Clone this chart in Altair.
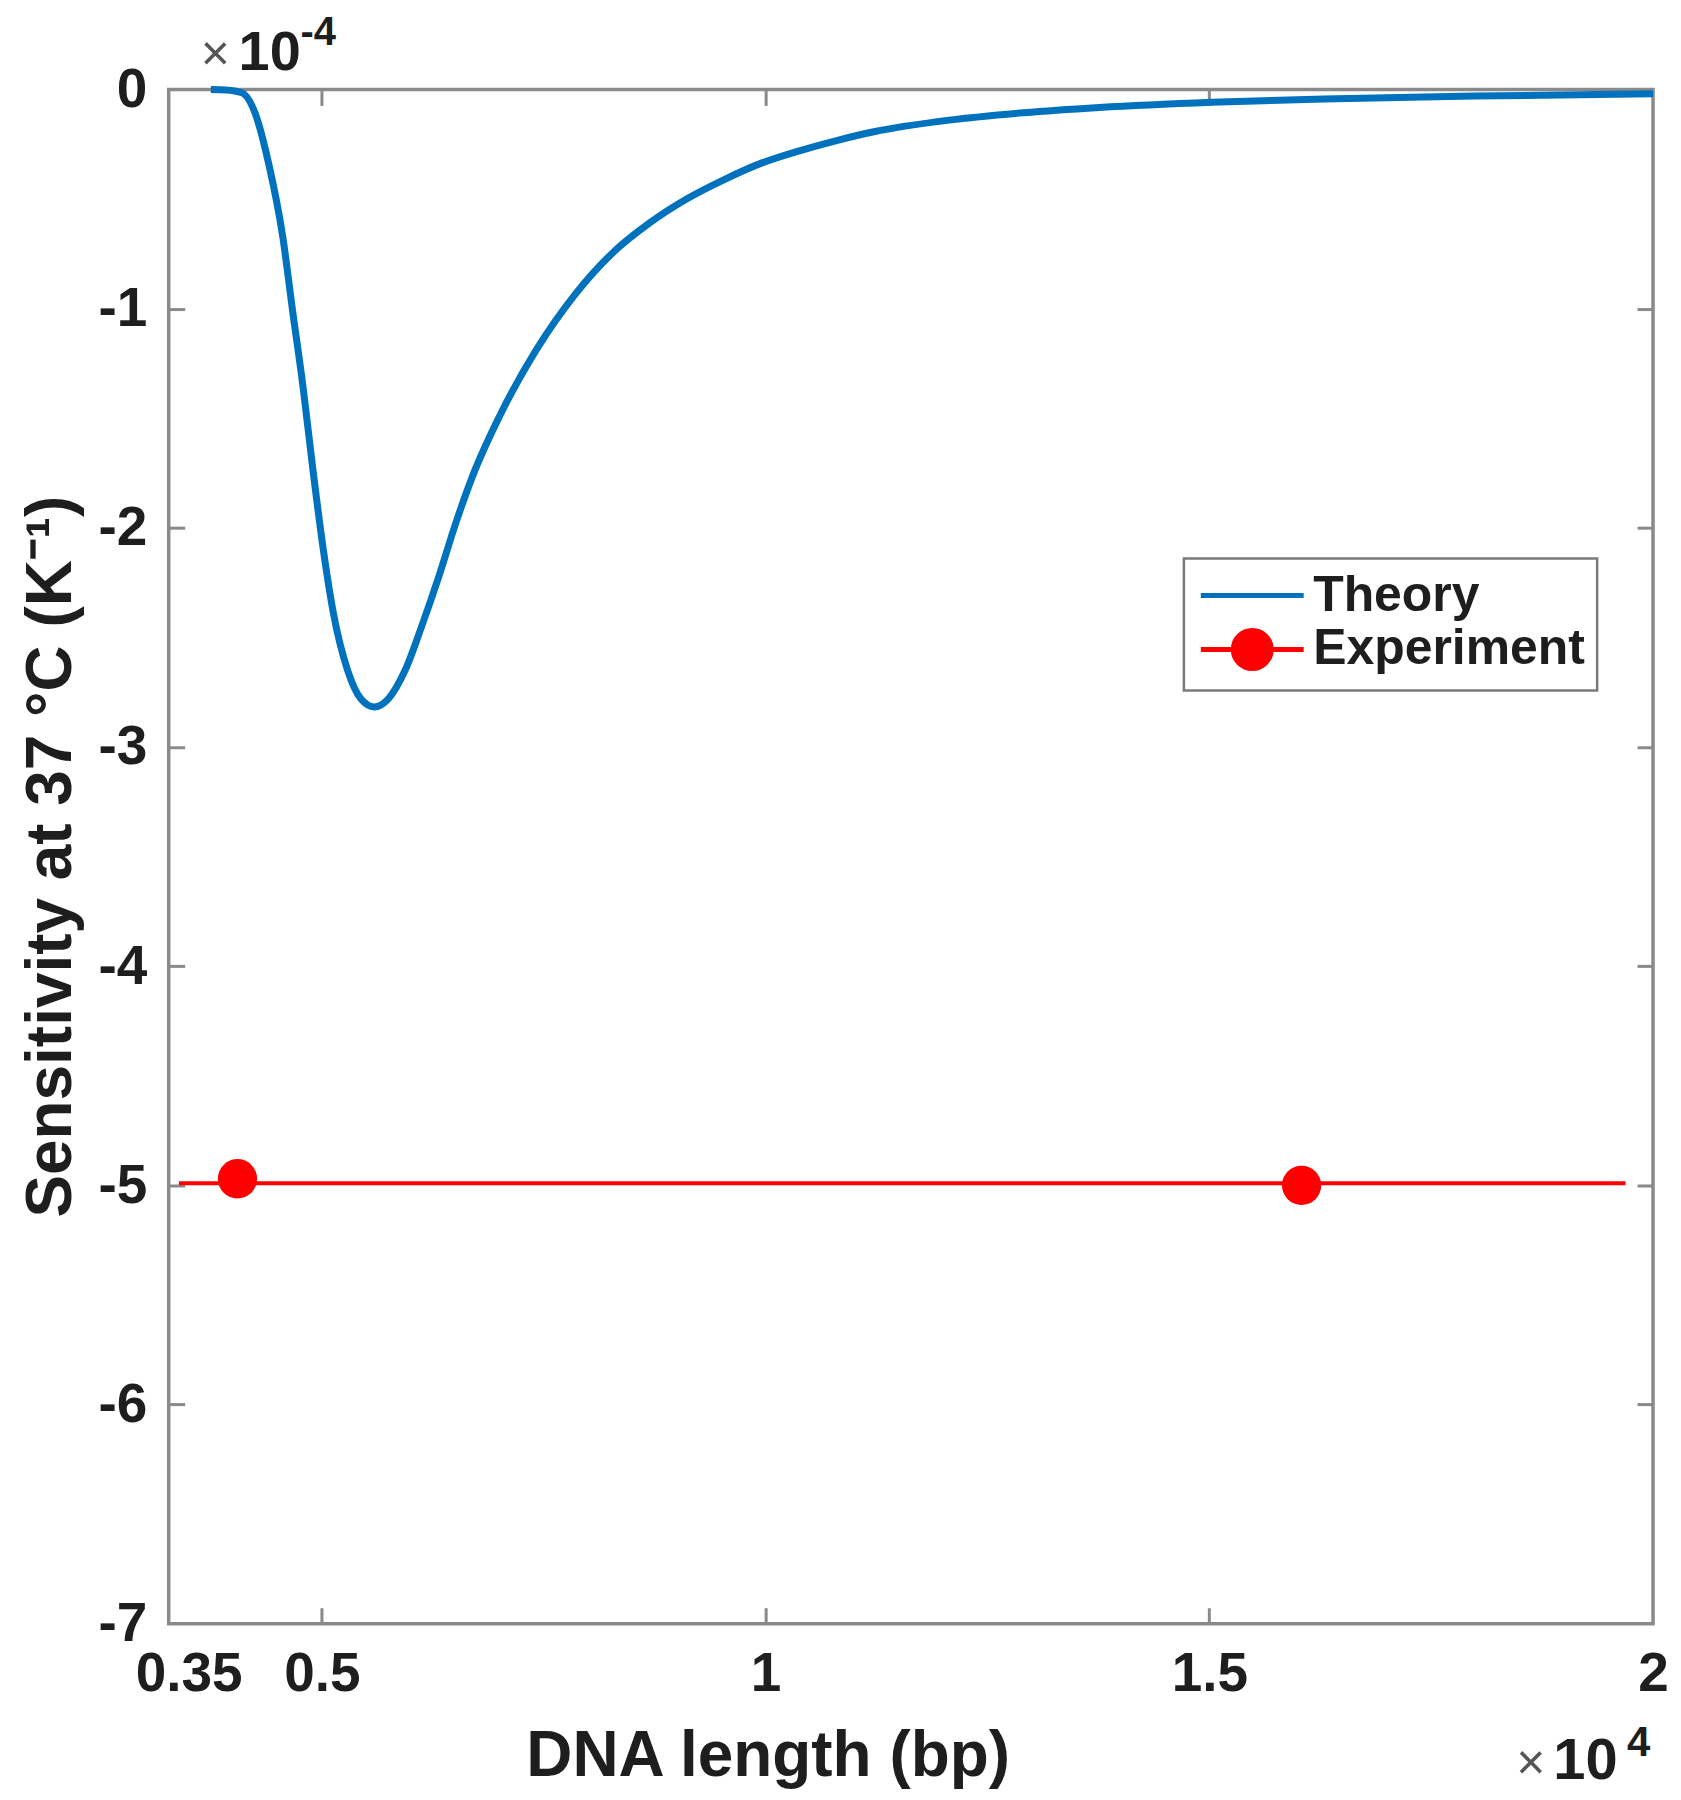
import altair as alt
import pandas as pd

# ---- data (x in units of 1e4 bp, y in units of 1e-4 K^-1) ----
theory_x = [0.375, 0.392, 0.410, 0.425, 0.440, 0.456, 0.467, 0.479, 0.490, 0.502,
            0.513, 0.529, 0.544, 0.559, 0.575, 0.594, 0.613, 0.632, 0.651, 0.670,
            0.700, 0.742, 0.785, 0.827, 0.869, 0.911, 0.954, 0.996, 1.038, 1.080,
            1.122, 1.207, 1.291, 1.376, 1.503, 1.629, 1.798, 2.000]
theory_y = [0.0, -0.002, -0.015, -0.11, -0.336, -0.672, -1.007, -1.362, -1.735, -2.108,
            -2.388, -2.649, -2.780, -2.817, -2.780, -2.649, -2.444, -2.220, -1.978, -1.763,
            -1.493, -1.186, -0.937, -0.748, -0.610, -0.500, -0.410, -0.335, -0.280, -0.233,
            -0.193, -0.140, -0.106, -0.082, -0.058, -0.043, -0.030, -0.020]

exp_x = [0.405, 1.604]
exp_y = [-4.97, -5.00]
exp_line_x = [0.339, 1.969]
exp_line_y = [-4.99, -4.99]

series = ["Theory", "Experiment"]
x_label_values = [0.35, 0.5, 1, 1.5, 2]
x_tick_values = [0.5, 1, 1.5]
y_label_values = [0, -1, -2, -3, -4, -5, -6, -7]
y_tick_values = [-1, -2, -3, -4, -5, -6]

# ---- style ----
W, H = 1487, 1537
FONT = "Liberation Sans"
GRAY = "#8a8a8a"
TXT = "#1e1e1e"
BLUE = "#0072BD"
RED = "#FF0000"
# legend symbols: drawn at scale 20 px per unit (symbolSize 1600)
THEORY_PATH = "M-2.575,0L2.575,0"
EXP_PATH = ("M-2.575,0L-0.95,0M0.95,0L2.575,0"
            "M0.95,0A0.95,0.95,0,1,1,-0.95,0A0.95,0.95,0,1,1,0.95,0Z")

xs = alt.Scale(domain=[0.3275, 2.0], nice=False, zero=False)
ys = alt.Scale(domain=[-7, 0], nice=False, zero=False)


def tick_axis(orient, values):
    return alt.Axis(orient=orient, values=values, labels=False, domain=False,
                    grid=False, ticks=True, tickSize=16, tickWidth=3,
                    tickColor=GRAY, offset=-16, title=None)


x_label_axis = alt.Axis(
    orient="bottom", values=x_label_values, format="~g",
    labelFont=FONT, labelFontSize=55, labelFontWeight="bold", labelColor=TXT,
    labelPadding=24, ticks=False, tickSize=0, domain=False, grid=False,
    labelFlush=False, labelOverlap=False,
    title="DNA length (bp)", titleFont=FONT, titleFontSize=64,
    titleFontWeight="bold", titleColor=TXT, titleX=600, titleY=152,
    titleAlign="center", titleBaseline="alphabetic")

y_label_axis = alt.Axis(
    orient="left", values=y_label_values, labelExpr="'' + datum.value",
    labelFont=FONT, labelFontSize=55, labelFontWeight="bold", labelColor=TXT,
    labelPadding=22, ticks=False, tickSize=0, domain=False, grid=False,
    labelFlush=False, labelOverlap=False,
    title="Sensitivity at 37 °C (K⁻¹)", titleFont=FONT, titleFontSize=64,
    titleFontWeight="bold", titleColor=TXT, titleX=-98, titleY=768,
    titleAngle=270, titleAlign="center", titleBaseline="alphabetic")

theory_df = pd.DataFrame({"x": theory_x, "y": theory_y})
exp_df = pd.DataFrame({"x": exp_x, "y": exp_y})
expline_df = pd.DataFrame({"x": exp_line_x, "y": exp_line_y})
legend_df = pd.DataFrame({"series": series, "x": [1.0, 1.0], "y": [-1.0, -1.0]})

theory = alt.Chart(theory_df).mark_line(
    color=BLUE, strokeWidth=7, interpolate="monotone").encode(
    x=alt.X("x:Q", scale=xs, axis=x_label_axis),
    y=alt.Y("y:Q", scale=ys, axis=y_label_axis),
)

expline = alt.Chart(expline_df).mark_line(color=RED, strokeWidth=4).encode(
    x=alt.X("x:Q", scale=xs, axis=tick_axis("bottom", x_tick_values)),
    y=alt.Y("y:Q", scale=ys, axis=tick_axis("left", y_tick_values)),
)

exppts = alt.Chart(exp_df).mark_point(
    filled=True, shape="circle", size=1550, color=RED, opacity=1).encode(
    x=alt.X("x:Q", scale=xs, axis=tick_axis("top", x_tick_values)),
    y=alt.Y("y:Q", scale=ys, axis=tick_axis("right", y_tick_values)),
)

leg = alt.Legend(
    title=None, orient="none", legendX=1017, legendY=470,
    symbolSize=1600, symbolStrokeWidth=5, symbolOpacity=1, symbolOffset=31.5,
    labelFont=FONT, labelFontSize=50, labelFontWeight="bold", labelColor=TXT,
    labelOffset=36, labelLimit=500, padding=12, rowPadding=0,
    strokeColor="#7a7a7a", fillColor="white")

legend_layer = alt.Chart(legend_df).transform_filter("false").mark_point(
    filled=True, opacity=1).encode(
    x=alt.X("x:Q", scale=xs, axis=None),
    y=alt.Y("y:Q", scale=ys, axis=None),
    fill=alt.Fill("series:N", scale=alt.Scale(domain=series, range=[BLUE, RED]), legend=leg),
    stroke=alt.Stroke("series:N", scale=alt.Scale(domain=series, range=[BLUE, RED]), legend=leg),
    shape=alt.Shape("series:N", scale=alt.Scale(domain=series, range=[THEORY_PATH, EXP_PATH]), legend=leg),
)


def txt(s, x, y, size, weight="bold", color=TXT):
    return alt.Chart(pd.DataFrame({"t": [s]})).mark_text(
        align="left", baseline="alphabetic", font=FONT, fontSize=size,
        fontWeight=weight, color=color).encode(
        x=alt.value(x), y=alt.value(y), text="t:N")


texts = [
    txt("×", 32, -19, 50, weight="normal", color="#555555"),
    txt("10", 70, -19, 56),
    txt("-4", 132, -45, 40),
    txt("×", 1350, 1693, 50, weight="normal", color="#555555"),
    txt("10", 1387, 1693, 58),
    txt("4", 1461, 1670, 42),
]

chart = alt.layer(theory, expline, exppts, legend_layer, *texts).resolve_axis(
    x="independent", y="independent"
).properties(
    width=W, height=H,
    autosize=alt.AutoSizeParams(type="none"),
    padding={"left": 161, "top": 80, "right": 20, "bottom": 170},
).configure(font=FONT).configure_view(
    stroke=GRAY, strokeWidth=3.5
).configure_legend(strokeWidth=2.5)

chart.save("out.html", embed_options={"renderer": "svg", "actions": False})
